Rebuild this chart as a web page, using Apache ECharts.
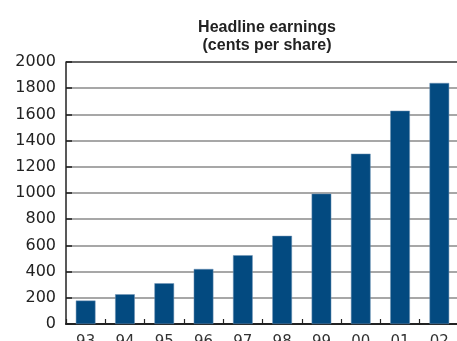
<!DOCTYPE html>
<html><head><meta charset="utf-8">
<script src="https://cdn.jsdelivr.net/npm/echarts@6/dist/echarts.min.js"></script>
<style>html,body{margin:0;padding:0;background:#fff}#c{width:457px;height:341px}</style>
</head><body><div id="c"></div>
<script>
const categories = ['93','94','95','96','97','98','99','00','01','02'];
const earnings = [179, 227, 311, 420, 525, 673, 995, 1300, 1628, 1840];
const yTicks = {min: 0, max: 2000, interval: 200};
const titleLines = ['Headline earnings', '(cents per share)'];

const gridColors = [];
for (let i = 0; i < 10; i++) gridColors.push('#8a8a8a');
gridColors.push('#333333');

const chart = echarts.init(document.getElementById('c'), null, {renderer: 'canvas'});
chart.setOption({
  animation: false,
  backgroundColor: '#fff',
  title: {
    text: titleLines.join('\n'),
    left: 262, top: 14, textAlign: 'center',
    textStyle: {fontFamily: 'Liberation Sans', fontWeight: 'bold', fontSize: 16, lineHeight: 18, color: '#222'}
  },
  grid: {left: 66, top: 62, width: 393, height: 262, containLabel: false, outerBoundsMode: 'none'},
  xAxis: {
    type: 'category', data: categories, boundaryGap: true,
    axisLine: {lineStyle: {color: '#222', width: 2}},
    axisTick: {show: true, inside: true, length: 5, lineStyle: {color: '#222', width: 1.2}},
    axisLabel: {margin: 11, fontFamily: 'DejaVu Sans', fontSize: 15, color: '#333'}
  },
  yAxis: {
    type: 'value', min: yTicks.min, max: yTicks.max, interval: yTicks.interval,
    axisLine: {show: true, lineStyle: {color: '#222', width: 1.5}},
    axisTick: {show: true, inside: true, length: 6, lineStyle: {color: '#222', width: 1.5}},
    axisLabel: {margin: 10, fontFamily: 'DejaVu Sans', fontSize: 16, color: '#222', formatter: v => String(v)},
    splitLine: {show: true, lineStyle: {color: gridColors, width: 1.5}}
  },
  series: [{
    type: 'bar', data: earnings, barWidth: '50%',
    itemStyle: {color: '#034a80', borderColor: '#6f93b5', borderWidth: 0.5}
  }]
});
</script></body></html>
